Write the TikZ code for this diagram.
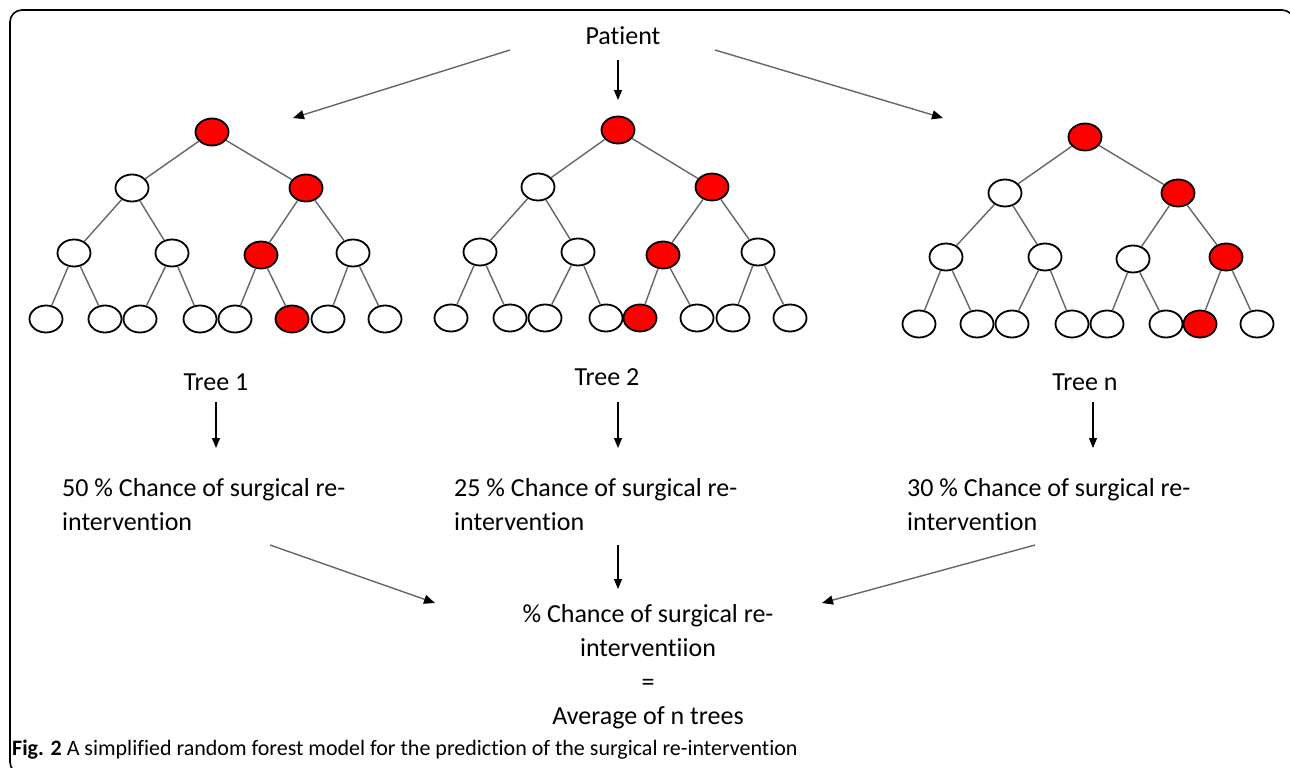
\documentclass[tikz,border=0pt]{standalone}
\usepackage{fontspec}
\setmainfont[Ligatures={NoCommon,NoRequired,NoContextual}]{Carlito}
\usetikzlibrary{shapes.geometric,arrows.meta}

\begin{document}
\begin{tikzpicture}[x=1pt,y=-1pt,
      nodeRed/.style={ellipse,draw=black,line width=1.8pt,fill=red,minimum width=33pt,minimum height=27pt,inner sep=0pt},
      nodeWhite/.style={nodeRed,fill=white},
      edgeTree/.style={draw=black!60,line width=1.4pt},
      arrowSlant/.style={draw=black!60,line width=1.4pt,-{Triangle[color=black,length=11pt,width=9pt]}},
      arrowDown/.style={draw=black,line width=1.1pt,-{Triangle[length=10pt,width=8pt]}},
      textLabel/.style={font=\fontsize{26}{34}\selectfont,inner sep=0pt},
    ]

    \clip (0,0) rectangle (1290,768);
    \draw[line width=1.6pt,rounded corners=12pt] (10,10) rectangle (1294,774);

    \node[textLabel,anchor=base] (patient) at (623,45) {Patient};
    \coordinate (pL) at (510,50);
    \coordinate (pM) at (618,60);
    \coordinate (pR) at (715,50);
    \coordinate (inA) at (293,118);
    \coordinate (inB) at (618,100);
    \coordinate (inC) at (943,118);
    \draw[arrowSlant] (pL) -- (inA);
    \draw[arrowDown] (pM) -- (inB);
    \draw[arrowSlant] (pR) -- (inC);

    % tree 1
    \begin{scope}[shift={(212,132)}]
      \node[nodeRed] (a0) at (0,0) {};
      \node[nodeWhite] (a1) at (-80,56) {};
      \node[nodeRed] (a2) at (94,56) {};
      \node[nodeWhite] (a3) at (-138,121) {};
      \node[nodeWhite] (a4) at (-40,121) {};
      \node[nodeRed] (a5) at (49,123) {};
      \node[nodeWhite] (a6) at (141,121) {};
      \node[nodeWhite] (a7) at (-166,187) {};
      \node[nodeWhite] (a8) at (-107,187) {};
      \node[nodeWhite] (a9) at (-72,187) {};
      \node[nodeWhite] (a10) at (-12,187) {};
      \node[nodeWhite] (a11) at (23,187) {};
      \node[nodeRed] (a12) at (80,187) {};
      \node[nodeWhite] (a13) at (116,187) {};
      \node[nodeWhite] (a14) at (173,187) {};
      \draw[edgeTree] (a0) -- (a1) (a0) -- (a2) (a1) -- (a3) (a1) -- (a4) (a2) -- (a5) (a2) -- (a6)
        (a3) -- (a7) (a3) -- (a8) (a4) -- (a9) (a4) -- (a10) (a5) -- (a11) (a5) -- (a12) (a6) -- (a13) (a6) -- (a14);
    \end{scope}

    % tree 2
    \begin{scope}[shift={(618,130)}]
      \node[nodeRed] (b0) at (0,0) {};
      \node[nodeWhite] (b1) at (-80,57) {};
      \node[nodeRed] (b2) at (94,57) {};
      \node[nodeWhite] (b3) at (-138,122) {};
      \node[nodeWhite] (b4) at (-40,122) {};
      \node[nodeRed] (b5) at (45,125) {};
      \node[nodeWhite] (b6) at (140,122) {};
      \node[nodeWhite] (b7) at (-167,188) {};
      \node[nodeWhite] (b8) at (-108,188) {};
      \node[nodeWhite] (b9) at (-73,188) {};
      \node[nodeWhite] (b10) at (-12,188) {};
      \node[nodeRed] (b11) at (22,188) {};
      \node[nodeWhite] (b12) at (79,188) {};
      \node[nodeWhite] (b13) at (115,188) {};
      \node[nodeWhite] (b14) at (172,188) {};
      \draw[edgeTree] (b0) -- (b1) (b0) -- (b2) (b1) -- (b3) (b1) -- (b4) (b2) -- (b5) (b2) -- (b6)
        (b3) -- (b7) (b3) -- (b8) (b4) -- (b9) (b4) -- (b10) (b5) -- (b11) (b5) -- (b12) (b6) -- (b13) (b6) -- (b14);
    \end{scope}

    % tree n
    \begin{scope}[shift={(1085,137)}]
      \node[nodeRed] (c0) at (0,0) {};
      \node[nodeWhite] (c1) at (-80,56) {};
      \node[nodeRed] (c2) at (93,56) {};
      \node[nodeWhite] (c3) at (-139,120) {};
      \node[nodeWhite] (c4) at (-40,120) {};
      \node[nodeWhite] (c5) at (48,122) {};
      \node[nodeRed] (c6) at (141,120) {};
      \node[nodeWhite] (c7) at (-166,187) {};
      \node[nodeWhite] (c8) at (-108,187) {};
      \node[nodeWhite] (c9) at (-73,187) {};
      \node[nodeWhite] (c10) at (-13,187) {};
      \node[nodeWhite] (c11) at (22,187) {};
      \node[nodeWhite] (c12) at (81,187) {};
      \node[nodeRed] (c13) at (115,187) {};
      \node[nodeWhite] (c14) at (172,187) {};
      \draw[edgeTree] (c0) -- (c1) (c0) -- (c2) (c1) -- (c3) (c1) -- (c4) (c2) -- (c5) (c2) -- (c6)
        (c3) -- (c7) (c3) -- (c8) (c4) -- (c9) (c4) -- (c10) (c5) -- (c11) (c5) -- (c12) (c6) -- (c13) (c6) -- (c14);
    \end{scope}

    \node[textLabel,anchor=base] (treeA) at (216,390) {Tree 1};
    \node[textLabel,anchor=base] (treeB) at (607,385) {Tree 2};
    \node[textLabel,anchor=base] (treeC) at (1085,390) {Tree n};

    \coordinate (tA) at (216,402);
    \coordinate (tB) at (618,402);
    \coordinate (tC) at (1093,402);
    \coordinate (oA) at (216,448);
    \coordinate (oB) at (618,448);
    \coordinate (oC) at (1093,448);
    \draw[arrowDown] (tA) -- (oA);
    \draw[arrowDown] (tB) -- (oB);
    \draw[arrowDown] (tC) -- (oC);

    \node[textLabel,anchor=north west,align=left] (probA) at (62,478) {50 \% Chance of surgical re-\\intervention};
    \node[textLabel,anchor=north west,align=left] (probB) at (454,478) {25 \% Chance of surgical re-\\intervention};
    \node[textLabel,anchor=north west,align=left] (probC) at (907,478) {30 \% Chance of surgical re-\\intervention};

    \coordinate (sA) at (270,545);
    \coordinate (sB) at (618,545);
    \coordinate (sC) at (1035,545);
    \coordinate (eA) at (435,603);
    \coordinate (eB) at (618,589);
    \coordinate (eC) at (822,603);
    \draw[arrowSlant] (sA) -- (eA);
    \draw[arrowDown] (sB) -- (eB);
    \draw[arrowSlant] (sC) -- (eC);

    \node[textLabel,anchor=north,align=center] (average) at (648,604) {\% Chance of surgical re-\\interventiion\\=\\Average of n trees};

    \node[anchor=base west,inner sep=0pt,font=\fontsize{22}{26}\selectfont] (caption) at (12,755)
      {\textbf{Fig. 2} A simplified random forest model for the prediction of the surgical re-intervention};

\end{tikzpicture}
\end{document}
